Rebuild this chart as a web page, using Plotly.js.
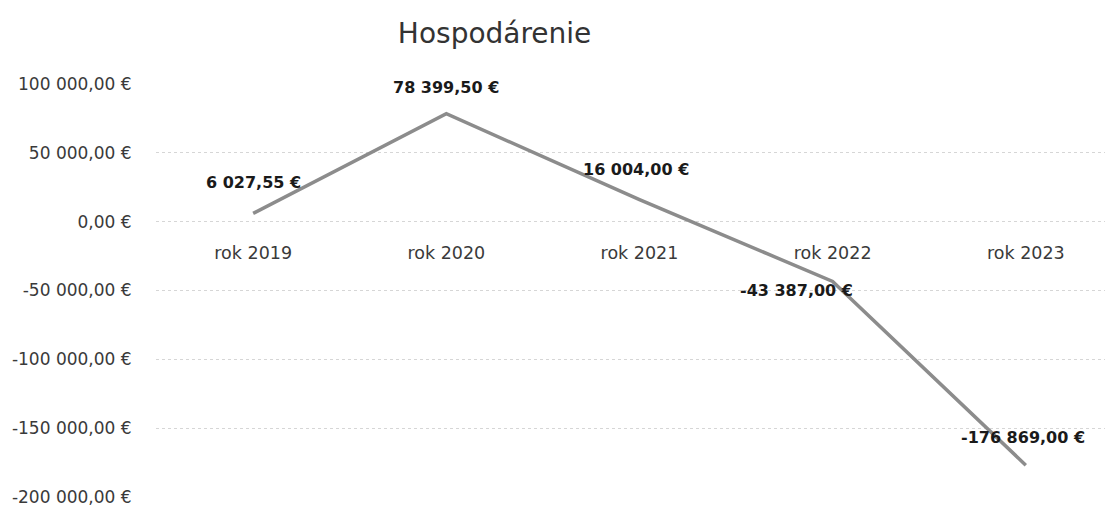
<!DOCTYPE html>
<html>
<head>
<meta charset="utf-8">
<script src="https://cdn.plot.ly/plotly-3.0.1.min.js"></script>
<style>html,body{margin:0;padding:0;background:#fff;}#chart{width:1109px;height:509px;}</style>
</head>
<body>
<div id="chart"></div>
<script>
const categories = ["rok 2019", "rok 2020", "rok 2021", "rok 2022", "rok 2023"];
const values = [6027.55, 78399.50, 16004.00, -43387.00, -176869.00];
const valueLabels = ["6 027,55 €", "78 399,50 €", "16 004,00 €", "-43 387,00 €", "-176 869,00 €"];
const yTickVals = [100000, 50000, 0, -50000, -100000, -150000, -200000];
const yTickText = ["100 000,00 €", "50 000,00 €", "0,00 €", "-50 000,00 €", "-100 000,00 €", "-150 000,00 €", "-200 000,00 €"];

const labelOffsets = [
  {xs: 0, ys: 31}, {xs: 0, ys: 26}, {xs: -3, ys: 30}, {xs: -36, ys: -9}, {xs: -3, ys: 28}
];

const xIdx = categories.map((c, i) => i);
const FONT = 'DejaVu Sans, sans-serif';

const trace = {
  x: xIdx,
  y: values,
  type: 'scatter',
  mode: 'lines',
  line: {color: '#8c8c8c', width: 3.5},
  hoverinfo: 'skip'
};

const annotations = values.map((v, i) => ({
  x: i, y: v, xref: 'x', yref: 'y',
  text: '<b>' + valueLabels[i] + '</b>',
  showarrow: false,
  xshift: labelOffsets[i].xs, yshift: labelOffsets[i].ys,
  font: {family: FONT, size: 16, color: '#1a1a1a'}
}));

const layout = {
  width: 1109, height: 509,
  margin: {l: 156, r: 4, t: 84, b: 12, pad: 0},
  paper_bgcolor: '#ffffff', plot_bgcolor: '#ffffff',
  showlegend: false,
  title: {text: 'Hospodárenie', x: 0.446, xanchor: 'center', y: 0.935, yanchor: 'middle',
          font: {family: FONT, size: 28, color: '#333333'}},
  xaxis: {
    tickmode: 'array', tickvals: xIdx, ticktext: categories,
    range: [-0.503, 4.41],
    anchor: 'free', position: 2/3,
    showgrid: false, zeroline: false, showline: false,
    ticks: '', ticklabelstandoff: 19,
    tickfont: {family: FONT, size: 17.5, color: '#3a3a3a'}
  },
  yaxis: {
    range: [-200000, 100000],
    tickmode: 'array', tickvals: yTickVals, ticktext: yTickText,
    showgrid: true, gridcolor: '#d6d6d6', gridwidth: 1, griddash: 'dot',
    zeroline: false, showline: false,
    ticks: 'outside', ticklen: 20, tickcolor: 'rgba(0,0,0,0)',
    tickfont: {family: FONT, size: 17, color: '#3a3a3a'}
  },
  annotations: annotations
};

Plotly.newPlot('chart', [trace], layout, {displayModeBar: false, staticPlot: true});
</script>
</body>
</html>
